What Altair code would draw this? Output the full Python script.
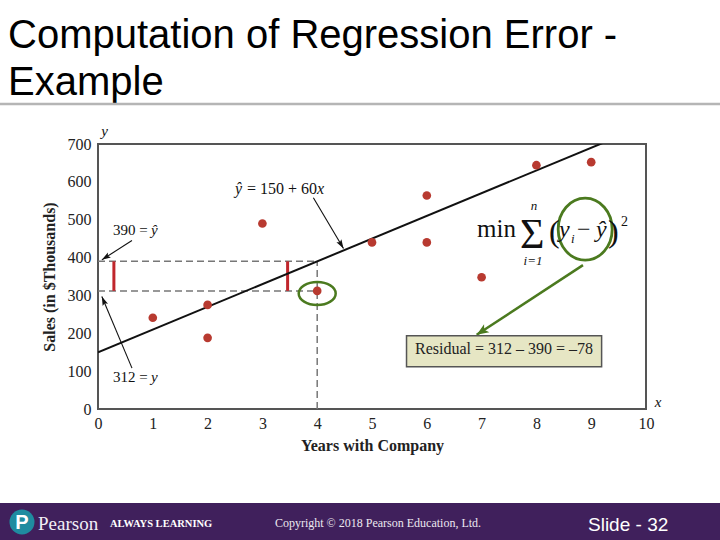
import math
import altair as alt
import pandas as pd

# ---------------- data ----------------
years = [1, 2, 2, 3, 4, 5, 6, 6, 7, 8, 9]
sales = [241, 275, 188, 490, 312, 440, 564, 440, 348, 644, 652]

reg_x = [0, 10]
reg_y = [150, 750]          # y-hat = 150 + 60x (clipped at 700)

x_ticks = list(range(0, 11))
y_ticks = list(range(0, 701, 100))

# dashed guides: y-hat = 390 and y = 312 at x = 4
guide_x = [0, 0, 4]
guide_x2 = [4, 4, 4]
guide_y = [390, 312, 0]
guide_y2 = [390, 312, 390]

# red residual bars
bar_x = [0.29, 3.46]
bar_y = [312, 312]
bar_y2 = [390, 390]

# arrows (start -> tip) in data units
arrow_x = [3.93, 0.62, 0.62]
arrow_y = [558, 445, 108]
arrow_x2 = [4.48, 0.07, 0.07]
arrow_y2 = [424, 394, 297]

green_arrow_x = [8.85]
green_arrow_y = [380]
green_arrow_x2 = [6.91]
green_arrow_y2 = [196]

ellipse_x = [4.0, 8.89]
ellipse_y = [305, 475]

box_x, box_x2 = [5.63], [9.19]
box_y, box_y2 = [111.5], [193.4]

title_lines = ["Computation of Regression Error -", "Example"]

# ---------------- geometry / style ----------------
W, H = 548, 265
PL, PT = 98, 144
SERIF = "Liberation Serif"
SANS = "Liberation Sans"
xs = alt.Scale(domain=[0, 10], nice=False, zero=False)
ys = alt.Scale(domain=[0, 700], nice=False, zero=False)
XAX = alt.Axis(values=x_ticks, title="Years with Company")
YAX = alt.Axis(values=y_ticks, title="Sales (in $Thousands)")
PXX = W / 10.0
PXY = H / 700.0
GREEN = "#4b7a1f"
RED = "#b83a30"

one = pd.DataFrame({"a": [0]})


def ang(x, y, x2, y2):
    dx = (x2 - x) * PXX
    dy = -(y2 - y) * PXY
    return (math.degrees(math.atan2(dx, -dy)) + 360) % 360


def ellipse_path(a, b):
    k = 0.5523
    return (f"M{a},0 C{a},{k*b} {k*a},{b} 0,{b} C{-k*a},{b} {-a},{k*b} {-a},0 "
            f"C{-a},{-k*b} {-k*a},{-b} 0,{-b} C{k*a},{-b} {a},{-k*b} {a},0 Z")


def X(f):
    return alt.X(f, type="quantitative", scale=xs, axis=XAX)


def Y(f):
    return alt.Y(f, type="quantitative", scale=ys, axis=YAX)


def txt(text, x, y, dx=0, dy=0, size=15, style="normal", weight="normal",
        align="left", font=SERIF, color="#111"):
    d = pd.DataFrame({"x": [x], "y": [y]})
    return alt.Chart(d).mark_text(
        text=text, dx=dx, dy=dy, fontSize=size, fontStyle=style, fontWeight=weight,
        align=align, baseline="alphabetic", font=font, color=color
    ).encode(x=X("x"), y=Y("y"))


def ptxt(text, px, py, size=15, style="normal", weight="normal", align="left",
         font=SERIF, color="#111"):
    return alt.Chart(one).mark_text(
        text=text, fontSize=size, fontStyle=style, fontWeight=weight,
        align=align, baseline="alphabetic", font=font, color=color
    ).encode(x=alt.value(px - PL), y=alt.value(py - PT))


# ---------------- layers ----------------
df_pts = pd.DataFrame({"x": years, "y": sales})
points = alt.Chart(df_pts).mark_circle(color=RED, size=75, opacity=1).encode(
    x=X("x"), y=Y("y"))

df_guides = pd.DataFrame({"x": guide_x, "x2": guide_x2, "y": guide_y, "y2": guide_y2})
guides = alt.Chart(df_guides).mark_rule(color="#777", strokeWidth=1.5,
                                        strokeDash=[7, 4]).encode(
    x=X("x"), x2="x2", y=Y("y"), y2="y2")

df_bars = pd.DataFrame({"x": bar_x, "y": bar_y, "y2": bar_y2})
bars = alt.Chart(df_bars).mark_rule(color="#c0262c", strokeWidth=3).encode(
    x=X("x"), y=Y("y"), y2="y2")

df_reg = pd.DataFrame({"x": reg_x, "y": reg_y})
reg = alt.Chart(df_reg).mark_line(color="#111", strokeWidth=2, clip=True).encode(
    x=X("x"), y=Y("y"))

ell1 = alt.Chart(pd.DataFrame({"x": ellipse_x[:1], "y": ellipse_y[:1]})).mark_point(
    shape=ellipse_path(1.85, 1.15), size=400, filled=False, stroke=GREEN,
    strokeWidth=2.5, opacity=1).encode(x=X("x"), y=Y("y"))
ell2 = alt.Chart(pd.DataFrame({"x": ellipse_x[1:], "y": ellipse_y[1:]})).mark_point(
    shape=ellipse_path(2.7, 3.1), size=400, filled=False, stroke=GREEN,
    strokeWidth=2.8, opacity=1).encode(x=X("x"), y=Y("y"))

df_arr = pd.DataFrame({"x": arrow_x, "y": arrow_y, "x2": arrow_x2, "y2": arrow_y2})
df_arr["ang"] = [ang(a, b, c, d) for a, b, c, d in zip(arrow_x, arrow_y, arrow_x2, arrow_y2)]
arr_lines = alt.Chart(df_arr).mark_rule(color="#111", strokeWidth=1.1).encode(
    x=X("x"), y=Y("y"), x2="x2", y2="y2")
arr_heads = alt.Chart(df_arr).mark_point(
    shape="M0,0 L-0.32,1 L0,0.8 L0.32,1 Z", size=324, filled=True,
    color="#111", opacity=1).encode(
    x=X("x2"), y=Y("y2"), angle=alt.Angle("ang:Q", scale=None))

df_garr = pd.DataFrame({"x": green_arrow_x, "y": green_arrow_y,
                        "x2": green_arrow_x2, "y2": green_arrow_y2})
df_garr["ang"] = [ang(a, b, c, d) for a, b, c, d in
                  zip(green_arrow_x, green_arrow_y, green_arrow_x2, green_arrow_y2)]
garr_line = alt.Chart(df_garr).mark_rule(color=GREEN, strokeWidth=2.5).encode(
    x=X("x"), y=Y("y"), x2="x2", y2="y2")
garr_head = alt.Chart(df_garr).mark_point(
    shape="M0,0 L-0.4,1 L0,0.75 L0.4,1 Z", size=576, filled=True,
    color=GREEN, opacity=1).encode(
    x=X("x2"), y=Y("y2"), angle=alt.Angle("ang:Q", scale=None))

df_box = pd.DataFrame({"x": box_x, "x2": box_x2, "y": box_y, "y2": box_y2})
box = alt.Chart(df_box).mark_rect(fill="#e6e6c4", stroke="#555",
                                  strokeWidth=1.5).encode(
    x=X("x"), x2="x2", y=Y("y"), y2="y2")
box_text = txt("Residual = 312 \u2013 390 = \u201378", 7.41, 146, size=16,
               align="center", color="#222")

# equation labels
eq_x, eq_y = 2.5, 568
eq = [
    txt("\u0177", eq_x, eq_y, dx=0, size=16, style="italic"),
    txt("= 150 + 60", eq_x, eq_y, dx=12, size=16),
    txt("x", eq_x, eq_y, dx=82, size=16, style="italic"),
    txt("390 =", 0.274, 460, size=15),
    txt("\u0177", 0.274, 460, dx=38, size=15, style="italic"),
    txt("312 =", 0.274, 72, size=15),
    txt("y", 0.274, 72, dx=38, size=15, style="italic"),
    txt("y", 0.06, 721, size=15, style="italic"),
    txt("x", 10.16, 6, size=15, style="italic"),
]

# formula
fx, fy = 6.916, 454
formula = [
    txt("min", fx, fy, dx=0, size=25),
    txt("\u03a3", fx, fy, dx=43, dy=11, size=42),
    txt("n", fx, fy, dx=57, dy=-27, size=13, style="italic", align="center"),
    txt("i=1", fx, fy, dx=56, dy=28, size=13, style="italic", align="center"),
    txt("(", fx, fy, dx=72, dy=5, size=32),
    txt("y", fx, fy, dx=82, size=24, style="italic"),
    txt("i", fx, fy, dx=94, dy=6, size=13, style="italic"),
    txt("\u2212", fx, fy, dx=100, size=24),
    txt("\u0177", fx, fy, dx=119, size=24, style="italic"),
    txt(")", fx, fy, dx=131, dy=5, size=32),
    txt("2", fx, fy, dx=144, dy=-11, size=14),
]

# slide decorations
title = [
    ptxt(title_lines[0], 8, 48, size=40, font=SANS, color="#000"),
    ptxt(title_lines[1], 8, 95, size=40, font=SANS, color="#000"),
]
title_rule = alt.Chart(one).mark_rule(color="#b5b5b5", strokeWidth=2.5).encode(
    x=alt.value(0 - PL), x2=alt.value(720 - PL), y=alt.value(104 - PT))

footer_band = alt.Chart(one).mark_rect(color="#40205c").encode(
    x=alt.value(0 - PL), x2=alt.value(720 - PL),
    y=alt.value(503 - PT), y2=alt.value(540 - PT))
logo = alt.Chart(one).mark_point(shape="circle", size=625, filled=True,
                                 color="#1f8ca0", opacity=1).encode(
    x=alt.value(22 - PL), y=alt.value(522 - PT))
footer = [
    ptxt("P", 22, 529, size=20, weight="bold", font=SANS, color="#fff", align="center"),
    ptxt("Pearson", 38, 530, size=19, color="#f2eef6"),
    ptxt("ALWAYS LEARNING", 110, 527, size=10.5, weight="bold", color="#fff"),
    ptxt("Copyright \u00a9 2018 Pearson Education, Ltd.", 378, 527, size=12,
         color="#ece8f0", align="center"),
    ptxt("Slide - 32", 588, 531, size=19, font=SANS, color="#fff"),
]

chart = alt.layer(
    guides, bars, reg, points, ell1, ell2, arr_lines, arr_heads,
    garr_line, garr_head, box, box_text, *eq, *formula, *title, title_rule,
    footer_band, logo, *footer
).properties(
    width=W, height=H,
    padding={"left": PL, "top": PT, "right": 720 - PL - W, "bottom": 540 - PT - H},
    autosize=alt.AutoSizeParams(type="none"),
    background="white",
).configure_view(stroke="#555", strokeWidth=2).configure_axis(
    labelFont=SERIF, labelFontSize=16, labelColor="#222",
    domain=False, ticks=False, tickSize=0, grid=False,
    titleFont=SERIF, titleFontSize=16, titleFontWeight="bold",
    titleColor="#222", labelOverlap=False, labelFlush=False
).configure_axisX(labelPadding=6, titlePadding=6).configure_axisY(
    labelPadding=7, titlePadding=10)

chart.save("out.html", embed_options={"renderer": "svg", "actions": False})
